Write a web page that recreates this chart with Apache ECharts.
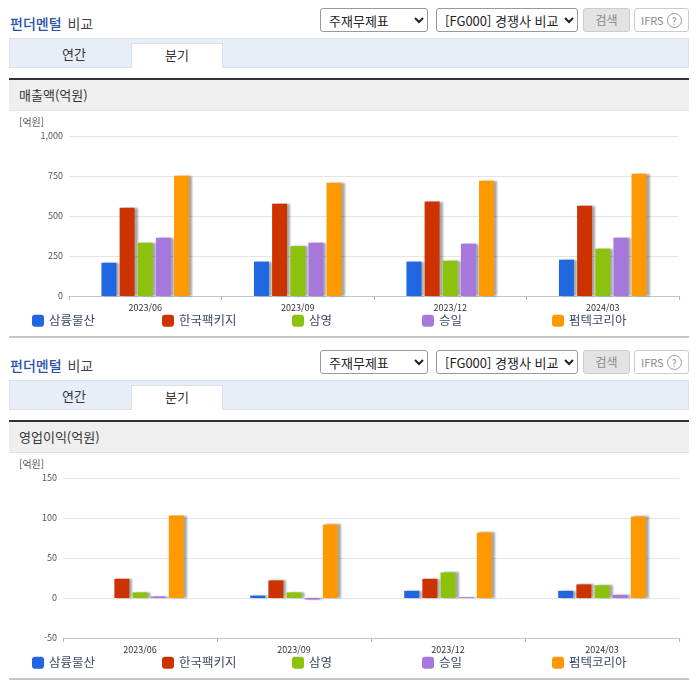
<!DOCTYPE html>
<html lang="ko">
<head>
<meta charset="UTF-8">
<title>펀더멘털 비교</title>
<script src="https://cdn.jsdelivr.net/npm/echarts@6/dist/echarts.min.js"></script>
<style>
    html, body { margin: 0; padding: 0; background: #fff; }
    body { width: 696px; height: 684px; position: relative; overflow: hidden; font-family: "Noto Sans CJK KR", sans-serif; color: #333; }
    .block { position: absolute; left: 0; width: 696px; height: 342px; }
    .block > * { position: absolute; box-sizing: border-box; }
    .title { left: 10px; top: 13px; font-size: 14px; line-height: 20px; color: #444; word-spacing: 2px; }
    .title b { color: #2a52a8; font-weight: 500; }
    select { top: 8px; height: 24px; font: 13px "Noto Sans CJK KR", sans-serif; color: #222; background: #fff; border: 1px solid #999; border-radius: 3px; padding: 0 0 0 4px; }
    .sel1 { left: 320px; width: 108px; }
    .sel2 { left: 436px; width: 142px; }
    .btn { left: 583px; top: 8px; width: 47px; height: 24px; background: #e3e3e3; border: 1px solid #ccc; border-radius: 3px; font-size: 12px; line-height: 22px; text-align: center; color: #888; }
    .ifrs { left: 634px; top: 8px; width: 55px; height: 24px; border: 1px solid #ccc; border-radius: 3px; font-size: 11px; line-height: 22px; padding-left: 6px; color: #888; white-space: nowrap; }
    .ifrs i { display: inline-block; width: 13px; height: 13px; margin-left: 3px; border: 1px solid #999; border-radius: 50%; font: 10px/13px "Noto Sans CJK KR", sans-serif; text-align: center; vertical-align: 0; }
    .tabs { left: 9px; top: 38px; width: 680px; height: 30px; background: #e8eef7; border: 1px solid #d8e0ea; }
    .tab { top: 43px; height: 25px; line-height: 21px; font-size: 13px; text-align: center; color: #333; }
    .tab1 { left: 33px; width: 82px; }
    .tab2 { left: 131px; width: 92px; background: #fff; border: 1px solid #d8e0ea; border-bottom: 0; }
    .band { left: 9px; top: 78px; width: 680px; height: 33px; background: #efefef; border-top: 2px solid #333; border-bottom: 1px solid #e2e2e2; font-size: 13px; line-height: 29px; padding-left: 10px; color: #333; }
    .chart { left: 0; top: 111px; width: 696px; height: 225px; }
    .rule { left: 9px; top: 336px; width: 680px; height: 2px; background: #c6c6c6; }
</style>
</head>
<body>

<div class="block" style="top:0">
    <div class="title"><b>펀더멘털</b> 비교</div>
    <select class="sel1"><option>주재무제표</option></select>
    <select class="sel2"><option>[FG000] 경쟁사 비교</option></select>
    <div class="btn">검색</div>
    <div class="ifrs">IFRS<i>?</i></div>
    <div class="tabs"></div>
    <div class="tab tab1">연간</div>
    <div class="tab tab2">분기</div>
    <div class="band">매출액(억원)</div>
    <div class="chart" id="chartSales"></div>
    <div class="rule"></div>
</div>

<div class="block" style="top:342px">
    <div class="title"><b>펀더멘털</b> 비교</div>
    <select class="sel1"><option>주재무제표</option></select>
    <select class="sel2"><option>[FG000] 경쟁사 비교</option></select>
    <div class="btn">검색</div>
    <div class="ifrs">IFRS<i>?</i></div>
    <div class="tabs"></div>
    <div class="tab tab1">연간</div>
    <div class="tab tab2">분기</div>
    <div class="band">영업이익(억원)</div>
    <div class="chart" id="chartProfit"></div>
    <div class="rule"></div>
</div>

<script>
var quarters = ['2023/06', '2023/09', '2023/12', '2024/03'];
var companies = ['삼륭물산', '한국팩키지', '삼영', '승일', '펌텍코리아'];
var colors = ['#1f66e0', '#cc3300', '#8cc20e', '#a678dc', '#ff9900'];

// 매출액
var salesSamryung = [208, 215, 215, 227];
var salesHankook = [552, 577, 590, 564];
var salesSamyoung = [333, 312, 221, 296];
var salesSeungil = [364, 333, 327, 364];
var salesPumtech = [752, 708, 721, 764];

// 영업이익
var profitSamryung = [0, 3, 9, 9];
var profitHankook = [24, 22, 24, 17];
var profitSamyoung = [7, 7, 32, 16];
var profitSeungil = [2, -2, 1, 4];
var profitPumtech = [103, 92, 82, 102];

function drawChart(id, rows, gridLeft, gridTop, yMin, yMax, yStep) {
    var chart = echarts.init(document.getElementById(id));
    var series = [];
    var legends = [];
    for (var i = 0; i < companies.length; i++) {
        series.push({
            name: companies[i],
            type: 'bar',
            data: rows[i],
            barWidth: 15,
            barGap: '21%',
            itemStyle: {
                color: colors[i],
                shadowColor: 'rgba(0,0,0,0.35)',
                shadowBlur: 2,
                shadowOffsetX: 3
            }
        });
        // 범례 간격이 일정해서 항목별로 따로 둔다
        legends.push({
            data: [companies[i]],
            left: 32 + i * 130,
            bottom: 9,
            padding: 0,
            icon: 'roundRect',
            itemWidth: 12,
            itemHeight: 12,
            selectedMode: false,
            textStyle: {fontSize: 12.5, color: '#3c4a6a'}
        });
    }
    chart.setOption({
        animation: false,
        textStyle: {fontFamily: '"Noto Sans CJK KR", sans-serif'},
        color: colors,
        graphic: [{
            type: 'text',
            left: 19,
            top: 6,
            style: {text: '[억원]', fontSize: 10, fill: '#555', fontFamily: '"Noto Sans CJK KR", sans-serif'}
        }],
        legend: legends,
        grid: {left: gridLeft, right: 17, top: gridTop, height: 160},
        xAxis: {
            type: 'category',
            data: quarters,
            axisLine: {onZero: false, lineStyle: {color: '#b8c8dc'}},
            axisTick: {show: true, length: 4, lineStyle: {color: '#a8b8cc'}},
            axisLabel: {fontSize: 9, color: '#333', margin: 7}
        },
        yAxis: {
            type: 'value',
            min: yMin,
            max: yMax,
            interval: yStep,
            axisLine: {show: false},
            axisTick: {show: false},
            axisLabel: {fontSize: 9, color: '#555', margin: 6},
            splitLine: {lineStyle: {color: '#e4e4e4'}}
        },
        series: series
    });
}

drawChart('chartSales', [salesSamryung, salesHankook, salesSamyoung, salesSeungil, salesPumtech], 69, 25, 0, 1000, 250);
drawChart('chartProfit', [profitSamryung, profitHankook, profitSamyoung, profitSeungil, profitPumtech], 63, 25, -50, 150, 50);
</script>
</body>
</html>
